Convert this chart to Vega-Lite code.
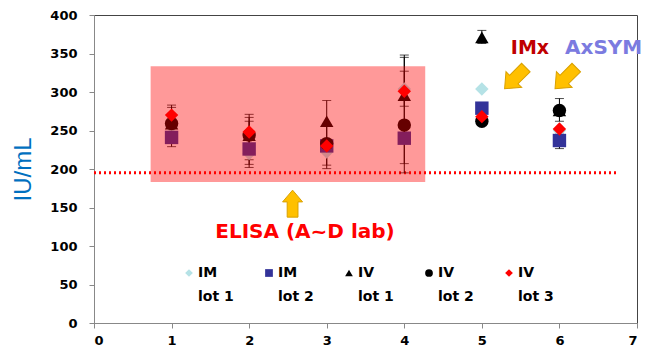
{
  "$schema": "https://vega.github.io/schema/vega-lite/v6.json",
  "width": 543,
  "height": 308,
  "autosize": {"type": "none"},
  "padding": {"left": 94, "top": 15, "right": 12, "bottom": 30},
  "background": "white",
  "config": {
    "view": {"stroke": "#444", "strokeWidth": 1},
    "axis": {"grid": false, "labelFont": "DejaVu Sans", "labelFontWeight": "bold", "labelFontSize": 13, "labelColor": "#000", "tickColor": "#888", "domainColor": "#888", "tickSize": 5},
    "axisX": {"tickCount": 7, "labelPadding": 6},
    "axisY": {"tickCount": 8, "labelPadding": 12, "titleColor": "#0070C0", "titleFont": "Liberation Sans", "titleFontSize": 24, "titleFontWeight": "normal", "titlePadding": 14},
    "legend": {"orient": "none", "legendX": 88, "legendY": 251, "direction": "horizontal", "columns": 5, "columnPadding": 28, "labelFont": "DejaVu Sans", "labelFontWeight": "bold", "labelFontSize": 14, "labelColor": "#000", "symbolSize": 60, "symbolStrokeWidth": 0, "labelOffset": 2},
    "style": {"guide-label": {"lineHeight": 24}}
  },
  "datasets": {
    "points": [
      {"lot": 1, "series": "IM lot 1", "value": 255},
      {"lot": 2, "series": "IM lot 1", "value": 220},
      {"lot": 3, "series": "IM lot 1", "value": 222},
      {"lot": 4, "series": "IM lot 1", "value": 304},
      {"lot": 5, "series": "IM lot 1", "value": 304},
      {"lot": 6, "series": "IM lot 1", "value": 250},
      {"lot": 1, "series": "IM lot 2", "value": 241},
      {"lot": 2, "series": "IM lot 2", "value": 226},
      {"lot": 3, "series": "IM lot 2", "value": 230},
      {"lot": 4, "series": "IM lot 2", "value": 240},
      {"lot": 5, "series": "IM lot 2", "value": 279},
      {"lot": 6, "series": "IM lot 2", "value": 237},
      {"lot": 1, "series": "IV lot 1", "value": 259},
      {"lot": 2, "series": "IV lot 1", "value": 244},
      {"lot": 3, "series": "IV lot 1", "value": 262},
      {"lot": 4, "series": "IV lot 1", "value": 296},
      {"lot": 5, "series": "IV lot 1", "value": 371},
      {"lot": 6, "series": "IV lot 1", "value": 276},
      {"lot": 1, "series": "IV lot 2", "value": 259},
      {"lot": 2, "series": "IV lot 2", "value": 244},
      {"lot": 3, "series": "IV lot 2", "value": 233},
      {"lot": 4, "series": "IV lot 2", "value": 257},
      {"lot": 5, "series": "IV lot 2", "value": 262},
      {"lot": 6, "series": "IV lot 2", "value": 276},
      {"lot": 1, "series": "IV lot 3", "value": 270},
      {"lot": 2, "series": "IV lot 3", "value": 248},
      {"lot": 3, "series": "IV lot 3", "value": 230},
      {"lot": 4, "series": "IV lot 3", "value": 301},
      {"lot": 5, "series": "IV lot 3", "value": 268},
      {"lot": 6, "series": "IV lot 3", "value": 252}
    ],
    "errors": [
      {"lot": 1, "lo": 229, "hi": 283},
      {"lot": 1, "lo": 258, "hi": 280},
      {"lot": 2, "lo": 202, "hi": 271},
      {"lot": 2, "lo": 206, "hi": 267},
      {"lot": 2, "lo": 212, "hi": 262},
      {"lot": 3, "lo": 200.5, "hi": 289},
      {"lot": 3, "lo": 205, "hi": 258},
      {"lot": 4, "lo": 195, "hi": 348},
      {"lot": 4, "lo": 207, "hi": 345},
      {"lot": 4, "lo": 281.5, "hi": 327},
      {"lot": 5, "lo": 363, "hi": 380},
      {"lot": 6, "lo": 262, "hi": 291.5},
      {"lot": 6, "lo": 226.5, "hi": 247}
    ]
  },
  "layer": [
    {
      "data": {"values": [{"from": 0, "to": 6.74, "cutoff": 195}]},
      "mark": {"type": "rule", "color": "#FF0000", "strokeWidth": 3, "strokeDash": [2, 3]},
      "encoding": {
        "x": {"field": "from", "type": "quantitative", "scale": {"domain": [0, 7], "nice": false}, "axis": {"title": null}},
        "x2": {"field": "to"},
        "y": {"field": "cutoff", "type": "quantitative", "scale": {"domain": [0, 400], "nice": false}, "axis": {"title": "IU/mL"}}
      }
    },
    {
      "data": {"name": "errors"},
      "mark": {"type": "rule", "color": "#000", "strokeWidth": 1},
      "encoding": {
        "x": {"field": "lot", "type": "quantitative", "scale": {"domain": [0, 7], "nice": false}, "axis": {"title": null}},
        "y": {"field": "lo", "type": "quantitative", "scale": {"domain": [0, 400], "nice": false}, "axis": {"title": "IU/mL"}},
        "y2": {"field": "hi"}
      }
    },
    {
      "data": {"name": "errors"},
      "transform": [{"fold": ["lo", "hi"], "as": ["end", "v"]}],
      "mark": {"type": "tick", "orient": "horizontal", "color": "#000", "size": 9, "thickness": 1},
      "encoding": {
        "x": {"field": "lot", "type": "quantitative", "scale": {"domain": [0, 7], "nice": false}, "axis": {"title": null}},
        "y": {"field": "v", "type": "quantitative", "scale": {"domain": [0, 400], "nice": false}, "axis": {"title": "IU/mL"}}
      }
    },
    {
      "data": {"name": "points"},
      "mark": {"type": "point", "filled": true, "opacity": 1, "strokeWidth": 0, "size": 180},
      "encoding": {
        "x": {"field": "lot", "type": "quantitative", "scale": {"domain": [0, 7], "nice": false}, "axis": {"title": null}},
        "y": {"field": "value", "type": "quantitative", "scale": {"domain": [0, 400], "nice": false}, "axis": {"title": "IU/mL"}},
        "color": {"field": "series", "type": "nominal", "scale": {"domain": ["IM lot 1", "IM lot 2", "IV lot 1", "IV lot 2", "IV lot 3"], "range": ["#B5E2E6", "#333399", "#000000", "#000000", "#FF0000"]}, "legend": {"title": null, "symbolSize": 60, "labelExpr": "[slice(datum.label, 0, 2), slice(datum.label, 3)]"}},
        "shape": {"field": "series", "type": "nominal", "scale": {"domain": ["IM lot 1", "IM lot 2", "IV lot 1", "IV lot 2", "IV lot 3"], "range": ["diamond", "square", "triangle-up", "circle", "diamond"]}, "legend": {"title": null, "symbolSize": 60, "labelExpr": "[slice(datum.label, 0, 2), slice(datum.label, 3)]"}}
      }
    },
    {
      "data": {"values": [{"x0": 0.73, "x1": 4.27, "ylo": 183, "yhi": 333.5}]},
      "mark": {"type": "rect", "color": "#FF0000", "opacity": 0.4},
      "encoding": {
        "x": {"field": "x0", "type": "quantitative", "scale": {"domain": [0, 7], "nice": false}, "axis": {"title": null}},
        "x2": {"field": "x1"},
        "y": {"field": "ylo", "type": "quantitative", "scale": {"domain": [0, 400], "nice": false}, "axis": {"title": "IU/mL"}},
        "y2": {"field": "yhi"}
      }
    },
    {
      "data": {"values": [{"x": 2.56, "y": 155}]},
      "mark": {"type": "point", "filled": true, "size": 729, "opacity": 1, "color": "#FFC000", "stroke": "#D9A000", "strokeWidth": 1, "shape": "M -0.4 1 L -0.4 -0.13 L -0.74 -0.13 L 0 -1 L 0.74 -0.13 L 0.4 -0.13 L 0.4 1 Z"},
      "encoding": {
        "x": {"field": "x", "type": "quantitative", "scale": {"domain": [0, 7], "nice": false}, "axis": {"title": null}},
        "y": {"field": "y", "type": "quantitative", "scale": {"domain": [0, 400], "nice": false}, "axis": {"title": "IU/mL"}}
      }
    },
    {
      "data": {"values": [{"x": 5.43, "y": 318}, {"x": 6.08, "y": 318}]},
      "mark": {"type": "point", "filled": true, "size": 900, "angle": 225, "opacity": 1, "color": "#FFC000", "stroke": "#D9A000", "strokeWidth": 1, "shape": "M -0.4 1 L -0.4 -0.13 L -0.74 -0.13 L 0 -1 L 0.74 -0.13 L 0.4 -0.13 L 0.4 1 Z"},
      "encoding": {
        "x": {"field": "x", "type": "quantitative", "scale": {"domain": [0, 7], "nice": false}, "axis": {"title": null}},
        "y": {"field": "y", "type": "quantitative", "scale": {"domain": [0, 400], "nice": false}, "axis": {"title": "IU/mL"}}
      }
    },
    {
      "data": {"values": [{"x": 2.72, "y": 117.6, "label": "ELISA (A~D lab)"}]},
      "mark": {"type": "text", "font": "DejaVu Sans", "fontWeight": "bold", "fontSize": 20, "color": "#FF0000", "baseline": "middle", "align": "center"},
      "encoding": {
        "x": {"field": "x", "type": "quantitative", "scale": {"domain": [0, 7], "nice": false}, "axis": {"title": null}},
        "y": {"field": "y", "type": "quantitative", "scale": {"domain": [0, 400], "nice": false}, "axis": {"title": "IU/mL"}},
        "text": {"field": "label"}
      }
    },
    {
      "data": {"values": [{"x": 5.62, "y": 357, "label": "IMx"}]},
      "mark": {"type": "text", "font": "DejaVu Sans", "fontWeight": "bold", "fontSize": 19, "color": "#C00000", "baseline": "middle", "align": "center"},
      "encoding": {
        "x": {"field": "x", "type": "quantitative", "scale": {"domain": [0, 7], "nice": false}, "axis": {"title": null}},
        "y": {"field": "y", "type": "quantitative", "scale": {"domain": [0, 400], "nice": false}, "axis": {"title": "IU/mL"}},
        "text": {"field": "label"}
      }
    },
    {
      "data": {"values": [{"x": 6.57, "y": 357, "label": "AxSYM"}]},
      "mark": {"type": "text", "font": "DejaVu Sans", "fontWeight": "bold", "fontSize": 20, "color": "#7B7BE0", "baseline": "middle", "align": "center"},
      "encoding": {
        "x": {"field": "x", "type": "quantitative", "scale": {"domain": [0, 7], "nice": false}, "axis": {"title": null}},
        "y": {"field": "y", "type": "quantitative", "scale": {"domain": [0, 400], "nice": false}, "axis": {"title": "IU/mL"}},
        "text": {"field": "label"}
      }
    }
  ]
}
